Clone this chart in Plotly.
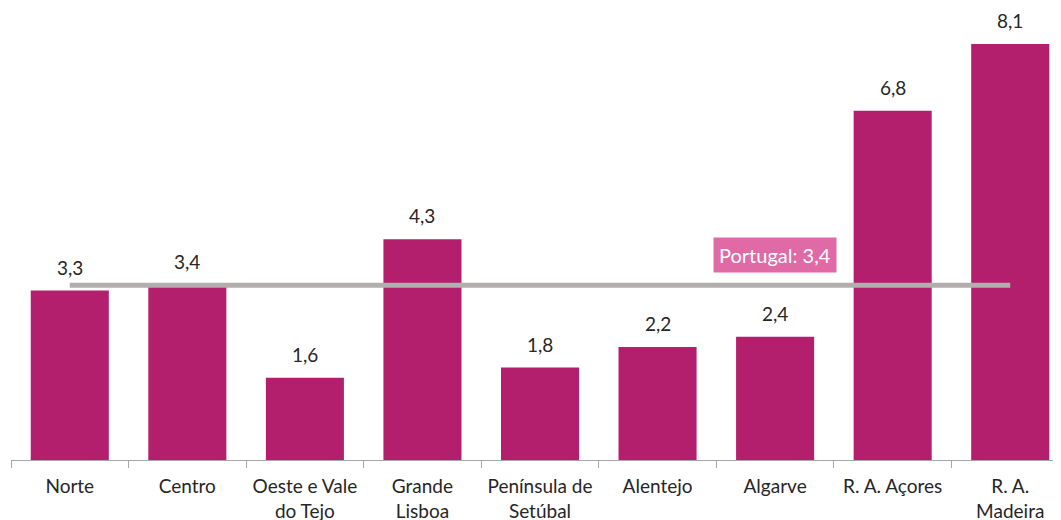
import plotly.graph_objects as go

categories = ["Norte", "Centro", "Oeste e Vale<br>do Tejo", "Grande<br>Lisboa",
              "Península de<br>Setúbal", "Alentejo", "Algarve", "R. A. Açores", "R. A.<br>Madeira"]
values = [3.3, 3.4, 1.6, 4.3, 1.8, 2.2, 2.4, 6.8, 8.1]
portugal = 3.4
value_labels = [f"{v:.1f}".replace(".", ",") for v in values]

FONT = "Lato, Carlito, Calibri, sans-serif"
BAR = "#B31F6C"

fig = go.Figure()
fig.add_trace(go.Bar(x=categories, y=values, marker=dict(color=BAR, line=dict(width=0)),
                     width=0.664, hoverinfo="skip"))
fig.add_trace(go.Scatter(x=[categories[0], categories[-1]], y=[portugal, portugal], mode="lines",
                         line=dict(color="#B2AEAE", width=5), hoverinfo="skip"))

for c, v, t in zip(categories, values, value_labels):
    fig.add_annotation(x=c, y=v, text=t, showarrow=False, yanchor="bottom", yshift=10,
                       font=dict(family=FONT, size=19, color="#262626"))

fig.add_annotation(x=categories[6], y=portugal, text="Portugal: 3,4", showarrow=False,
                   yshift=30, bgcolor="#E06AA6", borderpad=5,
                   font=dict(family=FONT, size=20, color="white"))

fig.update_layout(
    width=1061, height=520, margin=dict(l=3, r=0, t=0, b=68, autoexpand=False),
    plot_bgcolor="white", paper_bgcolor="white", showlegend=False,
    xaxis=dict(type="category", range=[-0.5, 8.5], tickson="boundaries", automargin=False,
               ticks="outside", ticklen=7, tickcolor="#A6A6A6", tickwidth=1.3,
               showline=True, linecolor="#A6A6A6", linewidth=1.3, showgrid=False,
               ticklabelstandoff=9, tickangle=0,
               tickfont=dict(family=FONT, size=19, color="#262626")),
    yaxis=dict(range=[0, 8.80], visible=False, showgrid=False, zeroline=False, automargin=False),
)
fig.write_html("out.html")
